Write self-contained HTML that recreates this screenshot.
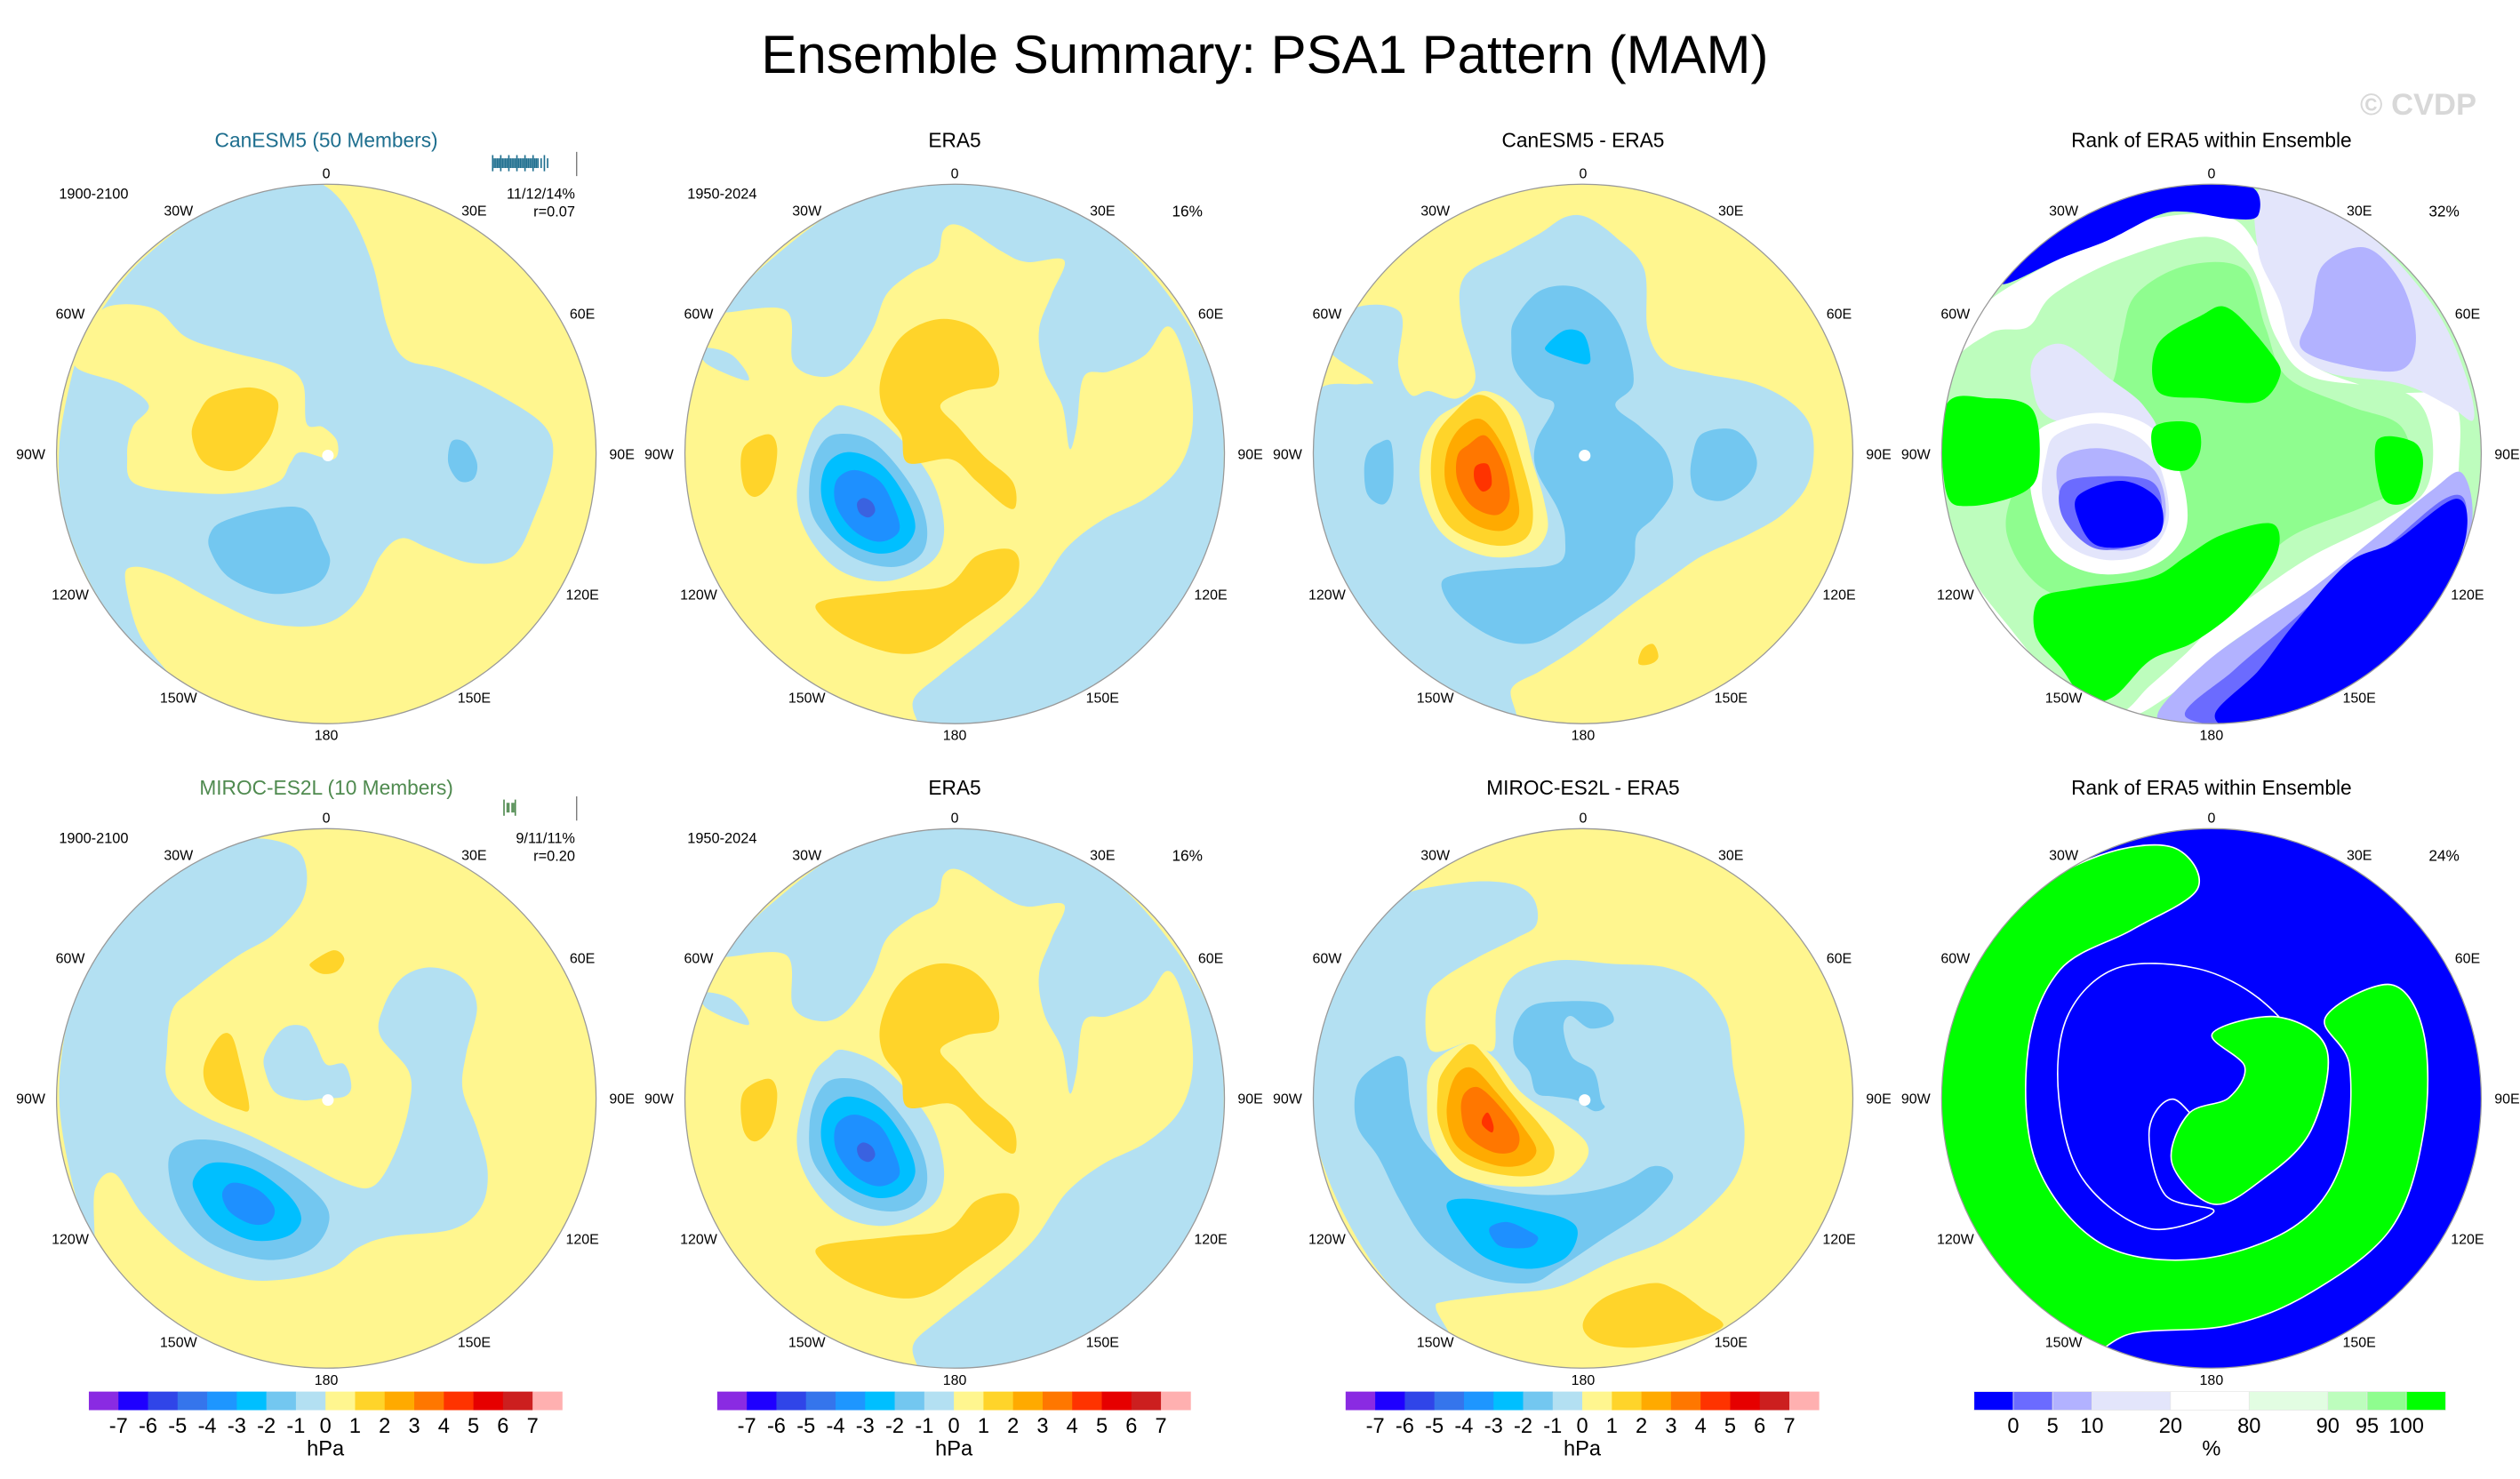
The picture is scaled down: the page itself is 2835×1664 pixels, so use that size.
<!DOCTYPE html>
<html><head><meta charset="utf-8"><title>Ensemble Summary: PSA1 Pattern (MAM)</title>
<style>html,body{margin:0;padding:0;background:#fff}svg{display:block}text{font-family:"Liberation Sans",Arial,sans-serif}</style>
</head><body>
<svg id="fig" width="2835" height="1664" viewBox="0 0 1560 915.6" xmlns="http://www.w3.org/2000/svg">
<rect width="1560" height="915.6" fill="#fff"/>
<text x="783" y="45" font-size="33" text-anchor="middle" fill="#000">Ensemble Summary: PSA1 Pattern (MAM)</text>
<text x="1497" y="71" font-size="19" text-anchor="middle" fill="#d8d8d8" font-weight="bold">© CVDP</text>
<g id="panels"></g>
</svg>
<script>
// ---- data ----
const C = {y:"#fff68f",g:"#ffd42a",o:"#ffaa00",d:"#ff7700",r:"#ff3300",lb:"#b3e0f2",b2:"#73c7f0",cy:"#00bfff",b4:"#1e90ff",b5:"#3a62e0",
  B0:"#0000ff",B1:"#6b6bff",B2:"#b2b2ff",B3:"#e3e5fb",W:"#ffffff",G1:"#e2fde2",G2:"#bdfdbd",G3:"#8ffd8f",G4:"#00ff00"};
const hpaColors = ["#8a2be2","#1f00ff","#3045e8","#3575ec","#1e96ff","#00bfff","#73c7f0","#b3e0f2","#fff68f","#ffd42a","#ffaa00","#ff7700","#ff3300","#e60000","#cc1f1f","#ffb0b0"];
const hpaTicks = ["-7","-6","-5","-4","-3","-2","-1","0","1","2","3","4","5","6","7"];
const rankColors = ["#0000ff","#6b6bff","#b2b2ff","#e3e5fb","#ffffff","#e2fde2","#bdfdbd","#8ffd8f","#00ff00"];
const rankWidths = [1,1,1,2,2,2,1,1,1];
const rankTicks = ["0","5","10","20","80","90","95","100"];
const lonLabels = ["0","30E","60E","90E","120E","150E","180","150W","120W","90W","60W","30W"];
const Z = {cx:770, cy:775, R:752};
const D1 = {cx:1369, cy:680, R:167};

const p1 = [
 ["lb",[[700,18],[770,30],[840,110],[900,250],[940,420],[990,510],[1100,540],[1250,610],[1380,700],[1400,800],[1350,950],[1290,1060],[1180,1080],[1060,1040],[980,1010],[920,1060],[860,1180],[760,1250],[600,1245],[450,1180],[320,1110],[230,1090],[210,1130],[250,1280],[340,1400],[250,1330],[120,1150],[40,950],[25,760],[60,560],[100,450],[160,350],[250,240],[400,120],[550,50]]],
 ["y",[[160,365],[290,370],[380,450],[500,490],[650,530],[705,580],[715,690],[760,700],[800,740],[790,790],[700,770],[670,800],[640,850],[550,880],[420,885],[240,860],[215,780],[230,700],[275,640],[200,580],[70,530],[100,440]]],
 ["g",[[460,610],[560,590],[630,620],[630,680],[600,750],[520,820],[430,800],[395,720],[420,650]]],
 ["b2",[[490,960],[600,930],[710,930],[760,1020],[780,1080],[740,1140],[620,1165],[500,1120],[445,1040],[450,990]]],
 ["b2",[[1120,740],[1160,745],[1190,800],[1180,845],[1140,850],[1110,800]]]
];
const p2 = [
 ["lb",[[120,380],[300,375],[320,520],[400,560],[470,530],[540,430],[580,330],[650,270],[720,230],[740,150],[790,140],[900,210],[970,240],[1075,235],[1040,330],[1005,430],[1020,540],[1070,640],[1090,760],[1110,700],[1130,560],[1200,545],[1300,500],[1360,420],[1400,470],[1430,600],[1430,720],[1390,820],[1300,900],[1180,960],[1080,1040],[990,1170],[870,1280],[730,1390],[655,1460],[670,1530],[680,1545],[980,1530],[1200,1420],[1380,1230],[1490,1000],[1520,770],[1490,560],[1400,380],[1250,200],[1080,80],[900,22],[770,18],[600,35],[420,110],[250,240],[150,340]]],
 ["lb",[[70,480],[150,500],[195,570],[80,525]]],
 ["lb",[[460,640],[560,680],[660,780],[720,880],[740,1000],[700,1080],[580,1130],[450,1100],[360,1000],[330,880],[370,720],[420,660]]],
 ["b2",[[440,720],[540,740],[640,850],[690,960],[680,1050],[600,1090],[480,1060],[380,960],[365,850],[390,760]]],
 ["cy",[[470,770],[560,800],[630,890],[660,980],[620,1040],[540,1050],[450,1000],[400,900],[410,810]]],
 ["b4",[[490,820],[560,850],[600,920],[615,990],[560,1020],[490,990],[440,920],[440,850]]],
 ["b5",[[515,898],[540,910],[548,935],[530,952],[505,940],[498,912]]],
 ["g",[[565,560],[620,450],[720,400],[820,420],[885,500],[885,580],[800,600],[730,640],[780,700],[850,780],[930,850],[940,920],[910,920],[830,850],[760,790],[640,800],[620,720],[570,650]]],
 ["g",[[180,760],[250,720],[275,760],[260,850],[215,895],[180,860]]],
 ["g",[[400,1185],[600,1160],[750,1140],[830,1060],[920,1040],[950,1080],[920,1160],[800,1250],[700,1320],[600,1330],[480,1290],[400,1230]]]
];
const p3 = [
 ["lb",[[60,480],[130,370],[260,380],[255,530],[290,610],[340,600],[420,620],[470,560],[430,400],[440,280],[560,210],[650,160],[720,115],[780,115],[860,170],[940,260],[950,430],[1000,520],[1100,550],[1250,580],[1360,640],[1410,720],[1400,850],[1330,940],[1230,1000],[1100,1060],[1000,1130],[900,1200],[760,1310],[650,1380],[570,1430],[580,1520],[450,1480],[300,1380],[150,1200],[50,1000],[10,780],[30,600],[150,580],[180,570]]],
 ["b2",[[580,400],[650,320],[750,310],[840,370],[890,460],[910,580],[860,640],[930,700],[1000,770],[1020,870],[970,950],[920,1000],[910,1080],[860,1160],[760,1230],[640,1300],[530,1290],[420,1220],[375,1140],[420,1110],[560,1095],[700,1080],[720,1010],[700,930],[640,820],[640,740],[690,640],[640,610],[580,540],[570,460]]],
 ["cy",[[670,470],[720,430],[770,440],[790,500],[780,525],[720,510],[670,490]]],
 ["b2",[[1075,780],[1100,720],[1180,705],[1230,740],[1255,800],[1230,860],[1160,905],[1090,890],[1070,840]]],
 ["b2",[[170,770],[200,745],[235,745],[240,860],[215,915],[170,890],[160,820]]],
 ["y",[[420,640],[500,600],[590,660],[630,800],[660,900],[670,990],[620,1050],[500,1060],[380,1000],[320,880],[320,760],[360,680]]],
 ["g",[[410,660],[480,610],[550,660],[600,800],[630,930],[610,1010],[520,1030],[400,980],[350,870],[355,740]]],
 ["o",[[430,700],[490,680],[550,760],[580,860],[590,950],[540,990],[450,960],[390,870],[390,770]]],
 ["d",[[450,750],[500,725],[550,810],[565,900],[530,945],[460,920],[420,850],[420,780]]],
 ["r",[[470,810],[505,805],[515,860],[490,880],[468,850]]],
 ["g",[[935,1320],[965,1305],[980,1340],[960,1360],[925,1360]]]
];
const p4 = [
 ["W",[[160,340],[330,240],[560,130],[800,110],[900,200],[980,400],[1040,520],[1250,600],[1440,620],[1460,800],[1430,900],[1300,1000],[1150,1100],[950,1220],[800,1320],[650,1450],[500,1510],[300,1400],[150,1200],[40,1000],[15,780],[40,560],[90,420]]],
 ["G2",[[30,560],[150,440],[260,420],[330,330],[520,230],[760,170],[880,250],[950,450],[1050,560],[1300,600],[1380,700],[1370,870],[1250,960],[1050,1060],[900,1160],[780,1250],[700,1330],[600,1420],[500,1500],[350,1420],[200,1250],[80,1080],[20,860]]],
 ["G3",[[560,330],[700,250],[860,260],[920,420],[980,560],[1150,640],[1300,700],[1320,850],[1200,920],[1000,1000],[880,1100],[700,1200],[500,1200],[300,1150],[200,1000],[230,850],[320,700],[480,600],[520,450]]],
 ["B3",[[280,500],[360,470],[480,560],[580,640],[600,720],[330,680],[270,580]]],
 ["W",[[300,700],[460,660],[600,700],[680,820],[700,980],[620,1080],[460,1110],[330,1050],[270,900],[270,780]]],
 ["B3",[[340,720],[450,690],[570,730],[630,820],[650,960],[590,1050],[470,1070],[360,1020],[300,900],[310,780]]],
 ["B2",[[350,790],[470,760],[610,820],[640,960],[560,1040],[420,1020],[350,900]]],
 ["B1",[[350,870],[420,840],[600,850],[630,950],[580,1020],[450,1040],[360,960]]],
 ["B0",[[400,890],[520,850],[620,900],[630,990],[560,1030],[450,1030],[400,960]]],
 ["G4",[[30,640],[150,620],[270,650],[290,800],[250,880],[100,920],[30,880]]],
 ["G4",[[620,470],[740,390],[820,370],[940,500],[960,560],[900,630],[750,620],[620,600]]],
 ["G4",[[610,700],[720,690],[740,760],[700,820],[620,800]]],
 ["G4",[[1230,740],[1330,740],[1360,800],[1330,900],[1250,900]]],
 ["G4",[[290,1180],[400,1150],[600,1120],[700,1060],[800,1000],[940,970],[950,1060],[850,1200],[720,1300],[600,1350],[500,1450],[420,1460],[350,1370],[280,1280]]],
 ["B3",[[910,30],[1100,90],[1250,200],[1400,380],[1480,560],[1500,680],[1430,640],[1300,580],[1100,550],[1000,480],[960,350],[900,210]]],
 ["B2",[[1080,250],[1200,200],[1300,300],[1340,450],[1300,540],[1150,530],[1020,480],[1050,380]]],
 ["B0",[[320,150],[500,70],[700,25],[880,30],[900,110],[830,120],[700,100],[620,110],[480,180],[350,230],[200,300],[180,270]]],
 ["B2",[[620,1500],[750,1360],[900,1250],[1050,1150],[1200,1030],[1380,880],[1470,830],[1490,1000],[1350,1300],[1000,1520],[700,1545]]],
 ["B1",[[700,1510],[830,1380],[960,1270],[1100,1150],[1250,1040],[1420,900],[1480,920],[1450,1100],[1300,1330],[1000,1520]]],
 ["B0",[[780,1500],[900,1380],[1000,1250],[1150,1080],[1280,1020],[1450,900],[1480,1000],[1400,1200],[1250,1370],[1050,1490],[860,1545]]]
];
const p5 = [
 ["lb",[[290,185],[450,80],[570,50],[680,75],[715,140],[700,230],[620,320],[520,380],[400,470],[340,530],[325,650],[325,720],[360,780],[440,830],[560,880],[700,950],[820,1010],[900,1020],[960,930],[1000,800],[1000,700],[920,600],[930,520],[980,440],[1060,410],[1150,440],[1190,520],[1160,650],[1150,750],[1190,860],[1220,980],[1200,1080],[1120,1140],[950,1160],[860,1190],[780,1250],[650,1280],[520,1275],[380,1210],[260,1100],[180,985],[125,1030],[120,1180],[60,1000],[25,760],[60,520],[150,340]]],
 ["lb",[[600,650],[650,580],[710,575],[740,620],[770,680],[820,680],[840,740],[820,770],[760,775],[700,780],[630,760],[600,700]]],
 ["b2",[[330,950],[380,895],[500,900],[650,970],[760,1060],[775,1130],[720,1200],[600,1225],[450,1180],[360,1080]]],
 ["cy",[[400,1000],[450,955],[560,970],[660,1040],[700,1110],[660,1160],[560,1170],[460,1120],[410,1050]]],
 ["b4",[[480,1040],[510,1010],[580,1030],[625,1080],[610,1120],[560,1125],[500,1090]]],
 ["g",[[430,680],[470,605],[505,600],[530,680],[555,800],[525,805],[470,780],[435,740]]],
 ["g",[[730,395],[790,362],[820,385],[800,420],[760,428],[728,410]]]
];
const p7 = [
 ["lb",[[50,510],[130,350],[240,220],[420,175],[560,175],[630,215],[640,290],[580,330],[480,380],[380,440],[335,500],[345,640],[450,620],[520,640],[530,520],[580,430],[700,390],[850,400],[1000,410],[1100,460],[1170,560],[1190,700],[1220,860],[1200,980],[1120,1080],[1000,1170],[850,1230],[700,1300],[550,1320],[390,1340],[360,1360],[400,1440],[330,1400],[180,1230],[60,1000],[10,780]]],
 ["b2",[[140,740],[200,680],[270,665],[290,800],[330,900],[450,1000],[600,1040],[750,1040],[880,1010],[960,965],[1010,975],[1015,1010],[940,1090],[820,1170],[700,1250],[620,1290],[480,1270],[340,1180],[260,1060],[200,940],[140,850]]],
 ["b2",[[580,580],[620,520],[700,505],[820,510],[855,560],[790,580],[735,545],[715,580],[740,660],[800,700],[820,780],[830,800],[800,810],[750,780],[690,770],[640,760],[620,700],[580,650]]],
 ["y",[[350,680],[450,620],[520,660],[600,760],[700,830],[780,900],[770,960],[700,1010],[560,1020],[420,990],[350,900],[335,780]]],
 ["g",[[380,700],[450,625],[500,660],[570,760],[650,850],[690,920],[660,980],[560,990],[430,950],[370,850],[365,760]]],
 ["o",[[410,720],[460,690],[530,760],[600,850],[640,920],[600,960],[520,960],[420,910],[390,820]]],
 ["d",[[440,760],[480,745],[540,800],[590,870],[580,920],[520,925],[450,880],[430,810]]],
 ["r",[[490,830],[505,815],[520,850],[515,870],[490,850]]],
 ["cy",[[390,1070],[460,1055],[600,1080],[720,1110],[755,1150],[720,1220],[620,1250],[500,1220],[430,1150]]],
 ["b4",[[510,1135],[560,1120],[620,1145],[645,1165],[620,1190],[550,1190],[520,1170]]],
 ["g",[[770,1400],[830,1330],[960,1290],[1030,1310],[1100,1360],[1160,1410],[1050,1450],[900,1470],[800,1450]]]
];
const p8 = [
 ["G4",[[1250,560],[1300,530],[1345,525],[1360,550],[1320,575],[1275,600],[1255,650],[1260,720],[1300,770],[1360,780],[1420,760],[1450,720],[1455,660],[1440,630],[1480,610],[1500,640],[1500,700],[1480,760],[1430,800],[1380,820],[1320,825],[1285,840],[1240,810],[1210,760],[1202,690],[1210,620]]],
 ["B0",[[1280,630],[1310,600],[1360,600],[1400,620],[1420,650],[1400,690],[1370,700],[1345,680],[1330,700],[1340,740],[1370,750],[1330,760],[1290,730],[1275,680]]],
 ["G4",[[1370,640],[1410,630],[1440,650],[1430,700],[1400,730],[1370,745],[1345,720],[1355,690],[1380,680],[1390,660]]]
];

const panels = [
 {name:"canesm5-ensemble-mean", col:0,row:0, title:"CanESM5 (50 Members)", tcol:"#1d6e8e", base:"y", shapes:p1, frame:Z, period:"1900-2100", stat:["11/12/14%","r=0.07"], rug:"#1d6e8e", pole:true},
 {name:"era5-top", col:1,row:0, title:"ERA5", tcol:"#000", base:"y", shapes:p2, frame:Z, period:"1950-2024", pct:"16%"},
 {name:"canesm5-minus-era5", col:2,row:0, title:"CanESM5 - ERA5", tcol:"#000", base:"y", shapes:p3, frame:Z, pole:true},
 {name:"rank-era5-canesm5", col:3,row:0, title:"Rank of ERA5 within Ensemble", tcol:"#000", base:"G2", shapes:p4, frame:Z, pct:"32%"},
 {name:"miroc-es2l-ensemble-mean", col:0,row:1, title:"MIROC-ES2L (10 Members)", tcol:"#4f8a4f", base:"y", shapes:p5, frame:Z, period:"1900-2100", stat:["9/11/11%","r=0.20"], rug:"#4f8a4f", pole:true},
 {name:"era5-bottom", col:1,row:1, title:"ERA5", tcol:"#000", base:"y", shapes:p2, frame:Z, period:"1950-2024", pct:"16%"},
 {name:"miroc-es2l-minus-era5", col:2,row:1, title:"MIROC-ES2L - ERA5", tcol:"#000", base:"y", shapes:p7, frame:Z, pole:true},
 {name:"rank-era5-miroc-es2l", col:3,row:1, title:"Rank of ERA5 within Ensemble", tcol:"#000", base:"B0", shapes:p8, frame:D1, pct:"24%", white:true}
];

// ---- drawing ----
const NS="http://www.w3.org/2000/svg";
const root=document.getElementById("panels");
const RAD=167, colX=[202,591,980,1369], rowY=[281,680], titleY=[91,492];
function el(tag,attrs,parent){const e=document.createElementNS(NS,tag);for(const k in attrs)e.setAttribute(k,attrs[k]);parent.appendChild(e);return e;}
function proj(p,f,cx,cy){return [cx+(p[0]-f.cx)/f.R*RAD, cy+(p[1]-f.cy)/f.R*RAD];}
function smooth(pts){const n=pts.length;let d="M"+pts[0][0].toFixed(1)+","+pts[0][1].toFixed(1);
 for(let i=0;i<n;i++){const p0=pts[(i-1+n)%n],p1=pts[i],p2=pts[(i+1)%n],p3=pts[(i+2)%n];
  const c1=[p1[0]+(p2[0]-p0[0])/6,p1[1]+(p2[1]-p0[1])/6],c2=[p2[0]-(p3[0]-p1[0])/6,p2[1]-(p3[1]-p1[1])/6];
  d+="C"+c1[0].toFixed(1)+","+c1[1].toFixed(1)+" "+c2[0].toFixed(1)+","+c2[1].toFixed(1)+" "+p2[0].toFixed(1)+","+p2[1].toFixed(1);}
 return d+"Z";}

panels.forEach((P,i)=>{
 const cx=colX[P.col], cy=rowY[P.row];
 const g=el("g",{},root);
 
 
 const t=el("text",{x:cx,y:titleY[P.row],"font-size":12.5,"text-anchor":"middle",fill:P.tcol},g);
 t.textContent=P.title;
 
 
 const cp=el("clipPath",{id:"clip"+i},g);
 el("circle",{cx:cx,cy:cy,r:RAD},cp);
 const mg=el("g",{"clip-path":"url(#clip"+i+")"},g);
 
 
 el("circle",{cx:cx,cy:cy,r:RAD+2,fill:C[P.base]},mg);
 P.shapes.forEach(s=>{
  const pts=s[1].map(p=>proj(p,P.frame,cx,cy));
  const a={d:smooth(pts),fill:C[s[0]]};
  if(P.white){a.stroke="#fff";a["stroke-width"]=1.8;a["paint-order"]="stroke";}
  const pa=el("path",a,mg);
  
  
 });
 if(P.pole){const pd=el("circle",{cx:cx+1,cy:cy+1,r:3.6,fill:"#fff"},mg);
  
  }
 const bd=el("circle",{cx:cx,cy:cy,r:RAD,fill:"none",stroke:"#999","stroke-width":0.7},g);
 
 
 lonLabels.forEach((lab,k)=>{
  const ang=k*30*Math.PI/180;
  const lx=cx+Math.sin(ang)*183, ly=cy-Math.cos(ang)*174+3.2;
  const tx=el("text",{x:lx.toFixed(1),y:ly.toFixed(1),"font-size":8.8,"text-anchor":"middle",fill:"#000"},g);
  tx.textContent=lab;
  
  
 });
 if(P.period){const tp=el("text",{x:cx-144,y:cy-158,"font-size":9,"text-anchor":"middle"},g);tp.textContent=P.period;
  
  }
 if(P.pct){const tq=el("text",{x:cx+144,y:cy-147,"font-size":9.5,"text-anchor":"middle"},g);tq.textContent=P.pct;
  
  }
 if(P.stat){
  const s1=el("text",{x:cx+154,y:cy-158,"font-size":9,"text-anchor":"end"},g);s1.textContent=P.stat[0];
  
  
  const s2=el("text",{x:cx+154,y:cy-147,"font-size":9,"text-anchor":"end"},g);s2.textContent=P.stat[1];
  
  
  const rg=el("g",{},g);
  
  
  const ry=cy-180;
  const offs=P.row===0?[103,104,105,106,107,108,109,110,111,112,113,114,115,116,117,118,119,120,121,122,123,124,125,126,127,128,129,130,131,133,135,137]:[110,112,113,115,116,117];
  offs.forEach((o,k)=>{el("line",{x1:cx+o,x2:cx+o,y1:ry-(k%5===0?5:3),y2:ry+(k%5===0?5:3),stroke:P.rug,"stroke-width":0.9},rg);});
  el("line",{x1:cx+155,x2:cx+155,y1:ry-7,y2:ry+8,stroke:"#555","stroke-width":0.6},rg);
 }
});

// colorbars
function hpaBar(x0,idx){
 const g=el("g",{},root);
 
 
 const w=293/hpaColors.length, y=861.5;
 hpaColors.forEach((c,k)=>{const r=el("rect",{x:x0+k*w,y:y,width:w+0.2,height:11.5,fill:c},g);
  
  });
 hpaTicks.forEach((t,k)=>{const tx=el("text",{x:x0+(k+1)*w,y:887,"font-size":13,"text-anchor":"middle"},g);tx.textContent=t;
  
  });
 const u=el("text",{x:x0+146.5,y:901,"font-size":13,"text-anchor":"middle"},g);u.textContent="hPa";
 
 
}
hpaBar(55,1);hpaBar(444,2);hpaBar(833,3);
(function(){
 const g=el("g",{},root);
 
 
 const x0=1222, tot=rankWidths.reduce((a,b)=>a+b,0), unit=292/tot, y=861.5;
 let x=x0; const bounds=[];
 rankColors.forEach((c,k)=>{const r=el("rect",{x:x,y:y,width:rankWidths[k]*unit,height:11.5,fill:c,stroke:"#e6e6e6","stroke-width":0.4},g);
  
  
  x+=rankWidths[k]*unit; bounds.push(x);});
 rankTicks.forEach((t,k)=>{const tx=el("text",{x:bounds[k],y:887,"font-size":13,"text-anchor":"middle"},g);tx.textContent=t;
  
  });
 const u=el("text",{x:1369,y:901,"font-size":13,"text-anchor":"middle"},g);u.textContent="%";
 
 
})();
</script>
</body></html>
